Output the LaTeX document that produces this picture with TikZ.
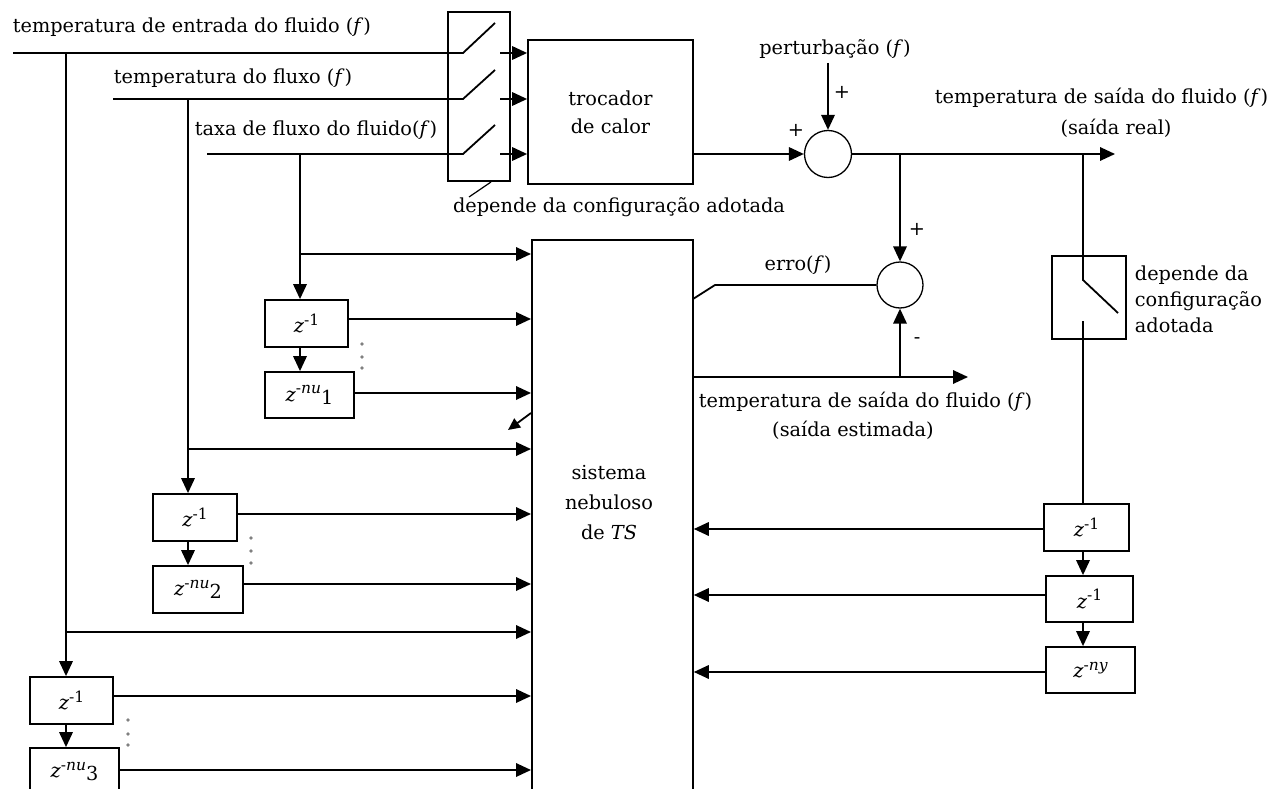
\documentclass[tikz,border=0pt]{standalone}
\usepackage{fontspec}
\setmainfont{DejaVu Serif}
\usetikzlibrary{arrows.meta}
\newcommand{\zpow}[2]{\textit{z}\raisebox{0.75ex}{\fontsize{15.5}{15.5}\selectfont #1}#2}
\begin{document}
\begin{tikzpicture}[x=1pt,y=-1pt, line width=1.8pt,
  >={Triangle[length=15pt,width=13.5pt]},
  every node/.style={font=\fontsize{19.3}{22}\selectfont},
  blk/.style={draw, line width=1.8pt, inner sep=0pt},
  sumc/.style={draw, circle, line width=1.3pt, minimum size=47pt, inner sep=0pt},
  lbl/.style={inner sep=0pt},
  thin/.style={line width=1.2pt},
  smalltip/.style={-{Triangle[length=12pt,width=11pt]}}
]
\useasboundingbox (0,0) rectangle (1271,789);
\clip (0,0) rectangle (1271,789);

% ---------- blocks ----------
\node[blk, minimum width=62pt, minimum height=169pt] (sw1) at (479,96.5) {};
\node[blk, minimum width=165pt, minimum height=144pt, align=center,
      font=\fontsize{19.3}{28}\selectfont] (troc) at (610.5,112) {trocador\\de calor};
\node[blk, minimum width=161pt, minimum height=580pt, anchor=north west] (ts) at (531,239) {};
\node[lbl, align=center, font=\fontsize{19.3}{30}\selectfont] (tst) at (609,503) {sistema\\nebuloso\\de \textit{TS}};
\node[sumc] (c1) at (828,154) {};
\node[sumc, minimum size=46pt] (c2) at (900,285) {};
\node[blk, minimum width=74pt, minimum height=83pt] (sw2) at (1089,297.5) {};

\node[blk, minimum width=83pt, minimum height=47pt] (za1) at (306.5,323.5) {\zpow{-1}{}};
\node[blk, minimum width=89pt, minimum height=46pt] (zb1) at (309.5,395) {\zpow{-\textit{nu}}{\raisebox{-0.3ex}{1}}};
\node[blk, minimum width=84pt, minimum height=47pt] (za2) at (195,517.5) {\zpow{-1}{}};
\node[blk, minimum width=90pt, minimum height=47pt] (zb2) at (198,589.5) {\zpow{-\textit{nu}}{\raisebox{-0.3ex}{2}}};
\node[blk, minimum width=83pt, minimum height=47pt] (za3) at (71.5,700.5) {\zpow{-1}{}};
\node[blk, minimum width=89pt, minimum height=47pt] (zb3) at (74.5,771.5) {\zpow{-\textit{nu}}{\raisebox{-0.3ex}{3}}};
\node[blk, minimum width=85pt, minimum height=47pt] (zr1) at (1086.5,527.5) {\zpow{-1}{}};
\node[blk, minimum width=87pt, minimum height=46pt] (zr2) at (1089.5,599) {\zpow{-1}{}};
\node[blk, minimum width=89pt, minimum height=46pt] (zr3) at (1090.5,670) {\zpow{-\textit{ny}}{}};

% ---------- labels ----------
\node[lbl, anchor=west] (t1) at (12,27) {temperatura de entrada do fluido (\textit{f})};
\node[lbl, anchor=west] (t2) at (113,78) {temperatura do fluxo (\textit{f})};
\node[lbl, anchor=west] (t3) at (194,130) {taxa de fluxo do fluido(\textit{f})};
\node[lbl] (dep1) at (619,207) {depende da configuração adotada};
\node[lbl] (pert) at (835,49) {perturbação (\textit{f})};
\node[lbl, anchor=east] (tsr) at (1269,98) {temperatura de saída do fluido (\textit{f})};
\node[lbl] (tsr2) at (1116,128) {(saída real)};
\node[lbl] (erro) at (798,265) {erro(\textit{f})};
\node[lbl, anchor=west] (tse) at (698,402) {temperatura de saída do fluido (\textit{f})};
\node[lbl] (tse2) at (853,430) {(saída estimada)};
\node[lbl, anchor=west, align=left, font=\fontsize{19.3}{26}\selectfont] (dep2) at (1134,299) {depende da\\configuração\\adotada};
\node[lbl] (p1) at (796,130) {+};
\node[lbl] (p2) at (842,92) {+};
\node[lbl] (p3) at (917,229) {+};
\node[lbl] (m1) at (917,341) {-};

% ---------- coordinates ----------
\coordinate (in1) at (13,53);
\coordinate (in2) at (113,99);
\coordinate (in3) at (207,154);
\coordinate (s1a) at (463,53);  \coordinate (s1b) at (495,23);
\coordinate (s2a) at (463,99);  \coordinate (s2b) at (495,70);
\coordinate (s3a) at (463,154); \coordinate (s3b) at (495,125);
\coordinate (o1) at (500,53);
\coordinate (o2) at (500,99);
\coordinate (o3) at (500,154);
\coordinate (v1) at (66,53);
\coordinate (v2) at (188,99);
\coordinate (v3) at (300,154);
\coordinate (b1) at (66,632);
\coordinate (b2) at (188,449);
\coordinate (b3) at (300,254);
\coordinate (l1) at (491,182);
\coordinate (l2) at (469,197);
\coordinate (p0) at (828,63);
\coordinate (j1) at (900,154);
\coordinate (j2) at (1083,154);
\coordinate (pend) at (1115,154);
\coordinate (sw2a) at (1083,280);
\coordinate (sw2b) at (1118,313);
\coordinate (sw2c) at (1083,321);
\coordinate (e1) at (715,285);
\coordinate (e2) at (693,299);
\coordinate (j3) at (900,377);
\coordinate (oend) at (968,377);
\coordinate (d1) at (531,413);
\coordinate (d2) at (508,430);
\coordinate (za1o) at ([yshift=4.5pt]za1.east);
\coordinate (zb1o) at ([yshift=2pt]zb1.east);
\coordinate (za2o) at ([yshift=3.5pt]za2.east);
\coordinate (zb2o) at ([yshift=5.5pt]zb2.east);
\coordinate (za3o) at ([yshift=4.5pt]za3.east);
\coordinate (zb3o) at ([yshift=1.5pt]zb3.east);
\coordinate (zr1o) at ([yshift=-1.5pt]zr1.west);
\coordinate (zr2o) at ([yshift=4pt]zr2.west);
\coordinate (zr3o) at ([yshift=-2pt]zr3.west);

% ---------- input lines and switches ----------
\draw (in1) -- (s1a) -- (s1b);
\draw (in2) -- (s2a) -- (s2b);
\draw (in3) -- (s3a) -- (s3b);
\draw[->] (o1) -- (o1 -| troc.west);
\draw[->] (o2) -- (o2 -| troc.west);
\draw[->] (o3) -- (o3 -| troc.west);
\draw[thin] (l1) -- (l2);

% ---------- delay chains (left) ----------
\draw[->] (v3) -- (v3 |- za1.north);
\draw[->] (za1.south -| v3) -- (zb1.north -| v3);
\draw[->] (v2) -- (v2 |- za2.north);
\draw[->] (za2.south -| v2) -- (zb2.north -| v2);
\draw[->] (v1) -- (v1 |- za3.north);
\draw[->] (za3.south -| v1) -- (zb3.north -| v1);

\draw[->] (b3) -- (b3 -| ts.west);
\draw[->] (za1o) -- (za1o -| ts.west);
\draw[->] (zb1o) -- (zb1o -| ts.west);
\draw[->] (b2) -- (b2 -| ts.west);
\draw[->] (za2o) -- (za2o -| ts.west);
\draw[->] (zb2o) -- (zb2o -| ts.west);
\draw[->] (b1) -- (b1 -| ts.west);
\draw[->] (za3o) -- (za3o -| ts.west);
\draw[->] (zb3o) -- (zb3o -| ts.west);
\draw[smalltip] (d1) -- (d2);

\foreach \yy in {344,357,368} \fill[gray] (362,\yy) circle (1.8pt);
\foreach \yy in {538,551,563} \fill[gray] (251,\yy) circle (1.8pt);
\foreach \yy in {720,734,745} \fill[gray] (128,\yy) circle (1.8pt);

% ---------- plant output, disturbance ----------
\draw[->] (troc.east |- c1) -- (c1.west);
\draw[->] (p0) -- (c1.north);
\draw[->] (c1.east) -- (pend);
\draw[->] (j1) -- (c2.north);
\draw (j2) -- (sw2a) -- (sw2b);
\draw (sw2c) -- (sw2c |- zr1.north);

% ---------- error and estimated output ----------
\draw (c2.west) -- (e1) -- (e2);
\draw[->] (ts.east |- oend) -- (oend);
\draw[->] (j3) -- (c2.south);

% ---------- delay chain (right) ----------
\draw[->] (zr1.south -| sw2c) -- (zr2.north -| sw2c);
\draw[->] (zr2.south -| sw2c) -- (zr3.north -| sw2c);
\draw[->] (zr1o) -- (zr1o -| ts.east);
\draw[->] (zr2o) -- (zr2o -| ts.east);
\draw[->] (zr3o) -- (zr3o -| ts.east);
\end{tikzpicture}
\end{document}
